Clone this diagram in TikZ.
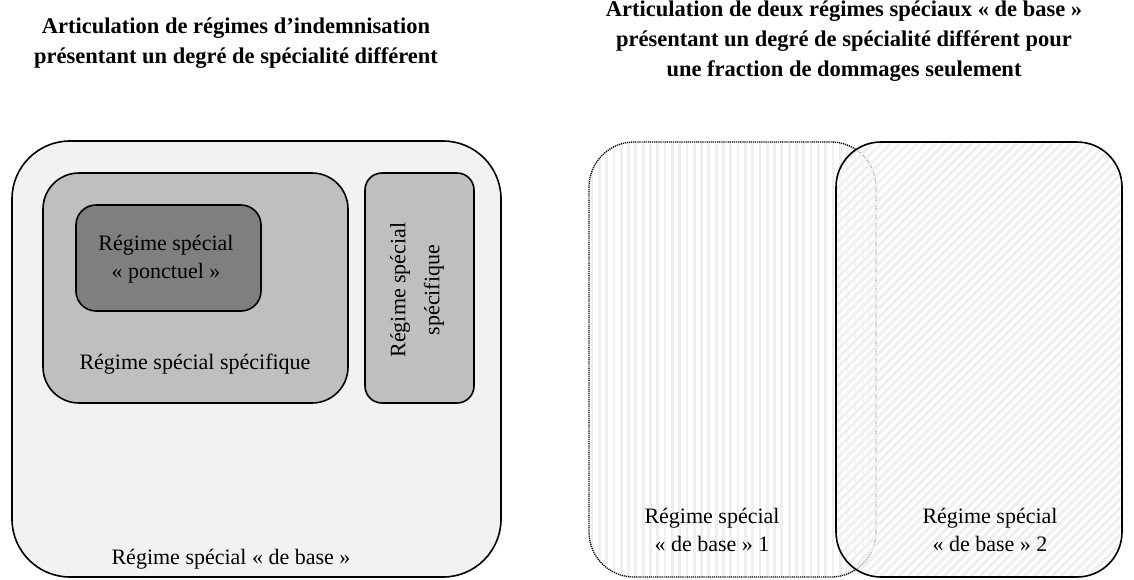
\documentclass[tikz,border=0pt]{standalone}
\usepackage{fontspec}
\setmainfont{Liberation Serif}
\definecolor{outerfill}{HTML}{F2F2F2}
\definecolor{midfill}{HTML}{BFBFBF}
\definecolor{darkfill}{HTML}{7F7F7F}
\definecolor{stripecol}{HTML}{EFEFEF}
\tikzset{
  box/.style={draw=black, line width=1.6pt},
  body/.style={font=\fontsize{22}{27}\selectfont, inner sep=0pt, anchor=base},
  ttl/.style={font=\fontsize{22.5}{30}\selectfont\bfseries, inner sep=0pt, anchor=base},
  stripe/.style={draw=stripecol, line width=2.8pt},
}
\begin{document}
\begin{tikzpicture}[x=1pt,y=-1pt]
\useasboundingbox (0,0) rectangle (1134,579);
% titles
\node[ttl] (t1a) at (236,33) {Articulation de régimes d’indemnisation};
\node[ttl] (t1b) at (236,63) {présentant un degré de spécialité différent};
\node[ttl] (t2a) at (844,16) {Articulation de deux régimes spéciaux «~de base~»};
\node[ttl] (t2b) at (844,46) {présentant un degré de spécialité différent pour};
\node[ttl] (t2c) at (844,76) {une fraction de dommages seulement};
% left diagram
\draw[box, fill=outerfill, rounded corners=58pt] (12,141) rectangle (501,577);
\draw[box, fill=midfill, rounded corners=36pt] (43,173) rectangle (348,403);
\draw[box, fill=darkfill, rounded corners=20pt] (76,205) rectangle (261,311);
\draw[box, fill=midfill, rounded corners=17pt] (365,173) rectangle (474,403);
\node[body] (p1) at (166,250) {Régime spécial};
\node[body] (p2) at (166,278) {«~ponctuel~»};
\node[body] (s1) at (195,369) {Régime spécial spécifique};
\node[font=\fontsize{22}{34}\selectfont, align=center, rotate=90, inner sep=0pt] (s2) at (417,290) {Régime spécial\\spécifique};
\node[body] (b0) at (231,564) {Régime spécial «~de base~»};
% right diagram
\path[fill=white] (589,142) [rounded corners=45pt] rectangle (876,577);
\begin{scope}
\clip[rounded corners=45pt] (589,142) rectangle (876,577);
\foreach \x in {592,599.3,...,880} \draw[stripe] (\x,130) -- (\x,590);
\end{scope}
\draw[line width=1.3pt, dash pattern=on 1.2pt off 0.9pt, rounded corners=45pt] (589,142) rectangle (876,577);
\path[fill=white, fill opacity=0.65, rounded corners=45pt] (836,142) rectangle (1122,577);
\begin{scope}
\clip[rounded corners=45pt] (836,142) rectangle (1122,577);
\foreach \x in {390,399,...,1130} \draw[stripe] (\x,590) -- (\x+460,130);
\end{scope}
\draw[box, rounded corners=45pt] (836,142) rectangle (1122,577);
\node[body] (r1a) at (712,523) {Régime spécial};
\node[body] (r1b) at (712,551) {«~de base~» 1};
\node[body] (r2a) at (990,523) {Régime spécial};
\node[body] (r2b) at (990,551) {«~de base~» 2};
\end{tikzpicture}
\end{document}
